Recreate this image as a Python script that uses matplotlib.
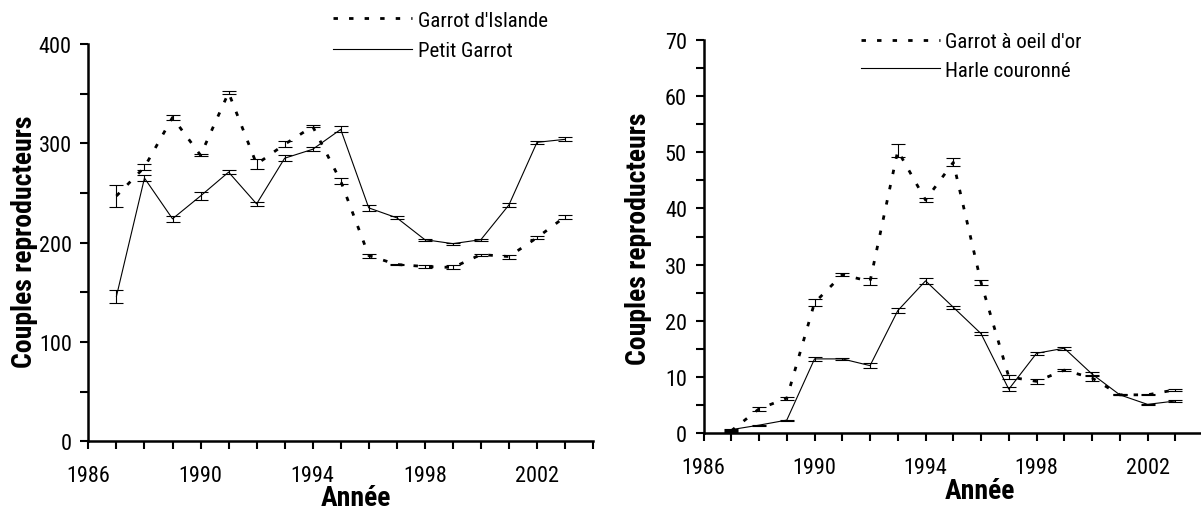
import matplotlib.pyplot as plt
from matplotlib.ticker import MultipleLocator, FixedLocator

plt.rcParams['font.family'] = ['Roboto Condensed', 'Liberation Sans', 'DejaVu Sans']

years = [1987, 1988, 1989, 1990, 1991, 1992, 1993, 1994, 1995,
         1996, 1997, 1998, 1999, 2000, 2001, 2002, 2003]
year_ticks = [1986, 1990, 1994, 1998, 2002]

# left panel
islande = [247, 276, 326, 288, 351, 279, 299, 317, 262,
           187, 178, 176, 175, 188, 186, 205, 226]
islande_err = [11, 3, 3, 1, 1.5, 5, 3, 1, 3, 2, 1, 1.5, 2, 1, 2, 1.5, 2]
petit = [146, 265, 224, 247, 271, 239, 285, 294, 314,
         235, 225, 203, 199, 203, 238, 301, 304]
petit_err = [6.5, 3, 3, 4, 2, 2, 3, 2, 3, 3, 1.5, 1, 1, 1, 2, 1.5, 2]

# right panel
oeil_or = [0.4, 4.3, 6.2, 23.2, 28.2, 27.0, 50.3, 41.5, 48.2,
           26.8, 10.0, 9.2, 11.2, 9.8, 6.8, 6.8, 7.7]
oeil_or_err = [0.2, 0.3, 0.3, 0.6, 0.3, 0.6, 1.1, 0.4, 0.7,
               0.5, 0.4, 0.4, 0.2, 0.5, 0.1, 0.1, 0.2]
harle = [0.6, 1.4, 2.3, 13.2, 13.2, 12.0, 21.8, 27.1, 22.4,
         17.7, 7.8, 14.2, 15.1, 10.5, 6.8, 5.1, 5.7]
harle_err = [0.2, 0.1, 0.1, 0.4, 0.2, 0.4, 0.4, 0.5, 0.3,
             0.3, 0.4, 0.3, 0.3, 0.3, 0.1, 0.1, 0.1]

fig = plt.figure(figsize=(12.01, 5.10), dpi=100)
ax1 = fig.add_axes([0.0736, 0.1327, 0.4202, 0.7791])
ax2 = fig.add_axes([0.5858, 0.1490, 0.4159, 0.7706])

dotted = (0, (1.6, 4))


def panel(ax, a, a_err, b, b_err, ymax, ymajor, labels, lab_xy, ylab_xy, leg_anchor, spacing):
    ax.errorbar(years, a, yerr=a_err, fmt='none', ecolor='black',
                elinewidth=0.8, capsize=5, capthick=0.8)
    ax.errorbar(years, b, yerr=b_err, fmt='none', ecolor='black',
                elinewidth=0.8, capsize=5, capthick=0.8)
    l1, = ax.plot(years, a, color='black', lw=2.0, linestyle=dotted)
    l2, = ax.plot(years, b, color='black', lw=0.8)
    ax.set_xlim(1986, 2004)
    ax.set_ylim(0, ymax)
    ax.xaxis.set_major_locator(FixedLocator(year_ticks))
    ax.xaxis.set_minor_locator(MultipleLocator(1))
    ax.yaxis.set_major_locator(MultipleLocator(ymajor))
    ax.yaxis.set_minor_locator(MultipleLocator(ymajor / 2))
    for s in ['top', 'right']:
        ax.spines[s].set_visible(False)
    for s in ['left', 'bottom']:
        ax.spines[s].set_linewidth(1.8)
    ax.tick_params(which='both', direction='out', length=6, width=1.5)
    ax.tick_params(axis='x', which='major', labelsize=16, pad=11)
    ax.tick_params(axis='y', which='major', labelsize=16, pad=6)
    ax.set_xlabel('Année', fontsize=20, fontweight='bold')
    ax.set_ylabel('Couples reproducteurs', fontsize=20, fontweight='bold')
    ax.xaxis.set_label_coords(*lab_xy)
    ax.yaxis.set_label_coords(*ylab_xy)
    ax.legend([l1, l2], labels, loc='upper left', bbox_to_anchor=leg_anchor,
              frameon=False, fontsize=15, handlelength=3.8, handletextpad=0.25,
              labelspacing=spacing, borderpad=0, borderaxespad=0)


panel(ax1, islande, islande_err, petit, petit_err, 400, 100,
      ["Garrot d'Islande", 'Petit Garrot'], (0.53, -0.1075), (-0.10, 0.504),
      (0.485, 1.084), 0.55)
panel(ax2, oeil_or, oeil_or_err, harle, harle_err, 70, 10,
      ["Garrot à oeil d'or", 'Harle couronné'], (0.553, -0.112), (-0.103, 0.496),
      (0.3145, 1.020), 0.45)

fig.savefig('out.png', dpi=100)
